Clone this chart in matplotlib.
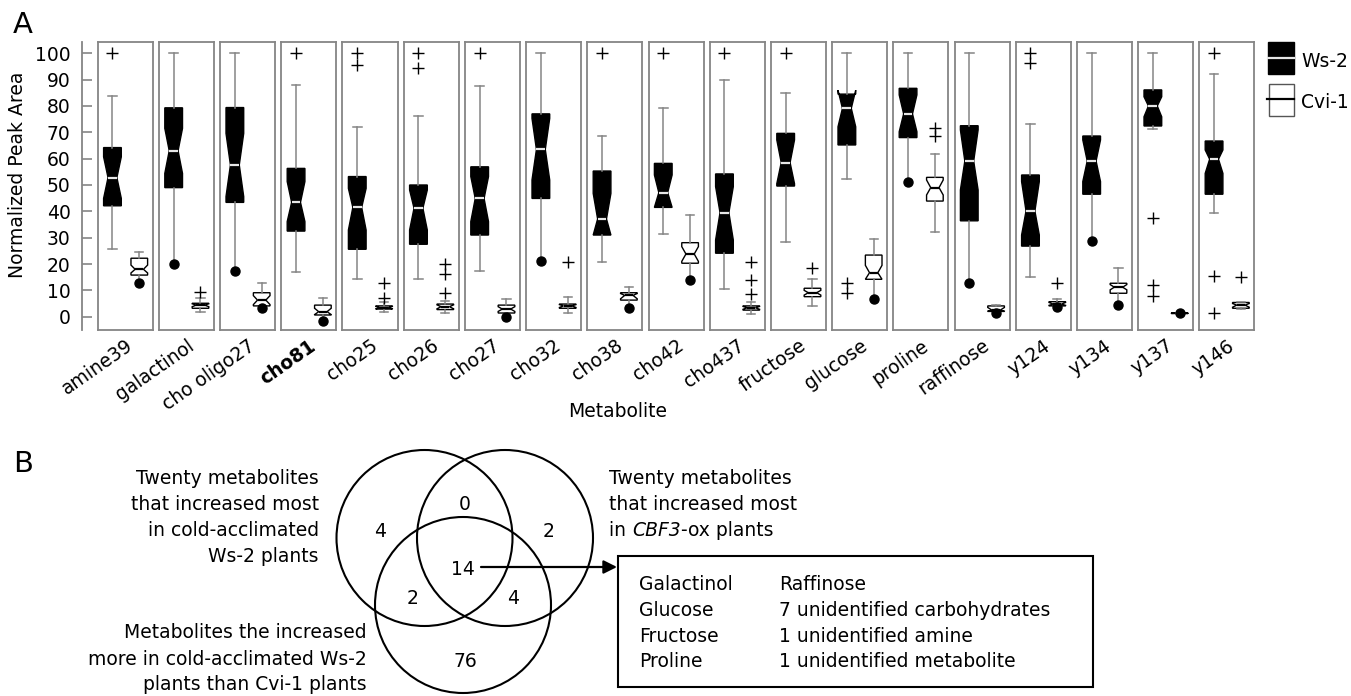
import matplotlib
matplotlib.use('Agg')
import matplotlib.pyplot as plt
from matplotlib.patches import Circle, Rectangle
import numpy as np

W, H = 1351, 696

metabolites = ['amine39', 'galactinol', 'cho oligo27', 'cho81', 'cho25', 'cho26', 'cho27',
               'cho32', 'cho38', 'cho42', 'cho437', 'fructose', 'glucose', 'proline',
               'raffinose', 'y124', 'y134', 'y137', 'y146']
bold_label = 'cho81'

# Ws-2 (filled boxes)
ws_q1 = [42.1, 49.0, 43.4, 32.5, 25.6, 27.5, 31.0, 44.9, 31.0, 41.5, 24.1, 49.6, 65.2, 68.0, 36.4, 26.8, 46.5, 72.4, 46.5]
ws_med = [52.8, 63.0, 57.6, 43.4, 41.5, 41.2, 44.9, 63.5, 37.1, 47.1, 39.5, 58.5, 79.1, 77.0, 59.1, 40.1, 59.1, 80.0, 59.8]
ws_q3 = [64.2, 79.3, 79.4, 56.3, 53.2, 50.0, 56.9, 77.0, 55.3, 58.2, 54.2, 69.6, 84.5, 86.7, 72.5, 53.8, 68.6, 86.1, 66.7]
ws_lo = [25.7, 19.9, 17.5, 17.1, 14.2, 14.2, 17.5, 21.3, 20.9, 31.4, 10.4, 28.2, 52.2, 51.3, 12.9, 15.0, 28.9, 71.1, 39.3]
ws_hi = [83.8, 100, 100, 88.0, 72.0, 76.3, 87.7, 100, 68.6, 79.1, 89.9, 84.8, 100, 100, 100, 73.2, 100, 100, 92.1]
ws_cilo = [44.9, 54.4, 45.6, 36.1, 32.9, 32.9, 36.1, 51.9, 31.0, 41.5, 29.1, 50.5, 72.1, 70.2, 48.1, 31.0, 51.3, 75.9, 54.4]
ws_cihi = [60.7, 71.5, 69.6, 51.3, 48.7, 48.1, 53.2, 75.3, 46.8, 53.8, 49.4, 67.1, 86.0, 84.2, 70.9, 51.3, 67.1, 83.5, 63.3]
ws_fliers = [[100], [], [], [100], [100, 95.6], [100, 94.3], [100], [], [100], [100], [100], [100],
             [12.7, 9.1], [], [], [100, 96.2], [], [37.3, 12.0, 7.9], [100, 15.5, 1.3]]
ws_dot = [None, 19.9, 17.5, None, None, None, None, 21.3, None, None, None, None,
          None, 51.3, 12.9, None, 28.9, None, None]

# Cvi-1 (open boxes)
cvi_q1 = [15.8, 3.2, 4.1, 0.65, 2.9, 2.7, 1.4, 3.2, 6.3, 20.3, 2.5, 7.6, 14.2, 43.9, 2.0, 4.1, 8.9, 1.2, 3.2]
cvi_med = [18.0, 4.4, 6.3, 1.9, 3.4, 3.8, 2.9, 4.1, 8.1, 23.8, 3.4, 9.1, 16.7, 49.0, 2.5, 4.8, 11.2, 1.3, 4.4]
cvi_q3 = [22.2, 5.1, 9.1, 4.4, 4.1, 4.8, 4.4, 4.8, 9.1, 28.1, 4.1, 10.8, 23.4, 52.9, 4.1, 5.7, 12.7, 1.4, 5.4]
cvi_lo = [12.9, 1.9, 3.2, -1.5, 1.9, 1.5, -0.2, 1.4, 3.2, 13.9, 1.2, 4.1, 6.7, 32.3, 1.3, 3.6, 4.4, 1.3, 3.0]
cvi_hi = [24.4, 7.0, 12.9, 7.0, 5.5, 6.0, 6.7, 7.4, 11.4, 38.6, 5.5, 14.2, 29.4, 61.8, 4.4, 6.7, 18.6, 1.5, 5.6]
cvi_cilo = [16.6, 3.8, 4.6, 0.8, 3.0, 3.0, 2.0, 3.5, 6.8, 21.0, 2.8, 8.2, 14.2, 46.2, 2.1, 4.3, 10.2, 1.25, 3.6]
cvi_cihi = [19.6, 4.9, 8.0, 3.2, 3.9, 4.5, 3.8, 4.6, 8.8, 26.6, 3.9, 10.0, 19.5, 51.9, 3.5, 5.4, 12.2, 1.35, 5.0]
cvi_fliers = [[], [9.2], [], [], [12.7, 7.2], [19.9, 16.1, 8.9], [], [20.6], [], [], [20.9, 13.9, 8.5],
              [18.6], [], [71.8, 68.6], [], [12.9], [], [], [15.2]]
cvi_dot = [12.9, None, 3.2, -1.5, None, None, -0.2, None, 3.2, 13.9, None, None,
           6.7, None, 1.3, 3.6, 4.4, 1.3, None]

yticks = list(range(0, 101, 10))

# Venn diagram counts
venn_counts = ['4', '0', '2', '14', '2', '4', '76']
venn_pos = [(380, 530), (465, 503.3), (548.3, 530), (463.3, 568.3), (412.7, 596.7), (513.3, 596.7), (465, 660)]

plt.rcParams['font.family'] = ['DejaVu Sans']
fig = plt.figure(figsize=(W / 100, H / 100), dpi=100)

fs = 13.5
grey = '#858585'
ylim = (-5.05, 104.4)
top_px, bot_px = 41.7, 330.0
ax_b = 1 - bot_px / H
ax_h = (bot_px - top_px) / H


def stat(q1, med, q3, lo, hi, cilo, cihi, fl):
    return dict(q1=q1, med=med, q3=q3, whislo=lo, whishi=hi, cilo=cilo, cihi=cihi, fliers=fl)


for i, name in enumerate(metabolites):
    left = 97.7 + 61.2 * i
    ax = fig.add_axes([left / W, ax_b, 55 / W, ax_h])
    for s in ax.spines.values():
        s.set_color(grey)
        s.set_linewidth(1.3)

    fl_style = dict(marker='+', markeredgecolor='black', markersize=8, markeredgewidth=1, linestyle='none')
    wk = dict(color=grey, linewidth=1.1)

    r1 = ax.bxp([stat(ws_q1[i], ws_med[i], ws_q3[i], ws_lo[i], ws_hi[i], ws_cilo[i], ws_cihi[i], ws_fliers[i])],
                positions=[1], widths=0.66, shownotches=True, patch_artist=True, manage_ticks=False,
                boxprops=dict(facecolor='black', edgecolor='black', linewidth=1),
                medianprops=dict(color='#e6e6e6', linewidth=1.6),
                whiskerprops=wk, capprops=wk, flierprops=fl_style)
    if ws_dot[i] is not None:
        r1['caps'][0].set_visible(False)
        ax.plot([1], [ws_dot[i]], 'o', color='black', markersize=6.5)

    r2 = ax.bxp([stat(cvi_q1[i], cvi_med[i], cvi_q3[i], cvi_lo[i], cvi_hi[i], cvi_cilo[i], cvi_cihi[i], cvi_fliers[i])],
                positions=[2], widths=0.62, shownotches=True, patch_artist=True, manage_ticks=False,
                boxprops=dict(facecolor='white', edgecolor='black', linewidth=1),
                medianprops=dict(color='black', linewidth=1.6),
                whiskerprops=wk, capprops=wk, flierprops=fl_style)
    if cvi_dot[i] is not None:
        r2['caps'][0].set_visible(False)
        ax.plot([2], [cvi_dot[i]], 'o', color='black', markersize=6.5)
    ax.set_xlim(0.45, 2.5)
    ax.set_ylim(*ylim)
    ax.set_xticks([])
    ax.set_yticks([])

    ax.text(0.5, -0.021, name, transform=ax.transAxes, rotation=35, ha='right', va='top',
            rotation_mode='anchor', fontsize=fs,
            fontweight='bold' if name == bold_label else 'normal')

# shared y axis on the left
ay = fig.add_axes([81.7 / W, ax_b, 0.5 / W, ax_h])
ay.patch.set_visible(False)
ay.set_ylim(*ylim)
ay.set_xticks([])
ay.set_yticks(yticks)
for k in ['top', 'right', 'bottom']:
    ay.spines[k].set_visible(False)
ay.spines['left'].set_color(grey)
ay.spines['left'].set_linewidth(1.3)
ay.tick_params(axis='y', direction='in', length=7.5, width=1.2, color=grey, labelsize=fs, pad=8)

# overlay in pixel coordinates for annotations
ov = fig.add_axes([0, 0, 1, 1])
ov.set_xlim(0, W)
ov.set_ylim(H, 0)
ov.axis('off')

ov.text(18, 174.5, 'Normalized Peak Area', rotation=90, ha='center', va='center', fontsize=fs)
ov.text(618, 417, 'Metabolite', ha='center', va='baseline', fontsize=fs)
ov.text(13, 33, 'A', fontsize=21, va='baseline')
ov.text(13, 472, 'B', fontsize=21, va='baseline')

# legend
ov.add_patch(Rectangle((1267.7, 42.3), 26.6, 31.7, facecolor='black', edgecolor='black', lw=1))
ov.plot([1267.7, 1294.3], [58.3, 58.3], color='#e6e6e6', lw=1.6)
ov.add_patch(Rectangle((1269.3, 84), 25, 32, facecolor='white', edgecolor='#555555', lw=1))
ov.plot([1266.5, 1294.3], [99.3, 99.3], color='black', lw=1.6)
ov.text(1301, 67, 'Ws-2', fontsize=fs, va='baseline')
ov.text(1301, 107.5, 'Cvi-1', fontsize=fs, va='baseline')

# Venn diagram
for c in [(424.5, 538), (505, 538), (463, 605)]:
    ov.add_patch(Circle(c, 88, fill=False, edgecolor='black', lw=1.5))
for t, (x, y) in zip(venn_counts, venn_pos):
    ov.text(x, y + 6.8, t, ha='center', va='baseline', fontsize=fs)

left_lines = ['Twenty metabolites', 'that increased most', 'in cold-acclimated', 'Ws-2 plants']
for t, y in zip(left_lines, [483.5, 509.5, 535.8, 561.8]):
    ov.text(319, y, t, ha='right', va='baseline', fontsize=fs)
low_lines = ['Metabolites the increased', 'more in cold-acclimated Ws-2', 'plants than Cvi-1 plants']
for t, y in zip(low_lines, [638.5, 665, 690]):
    ov.text(367, y, t, ha='right', va='baseline', fontsize=fs)
right_lines = ['Twenty metabolites', 'that increased most']
for t, y in zip(right_lines, [483.5, 509.5]):
    ov.text(609.4, y, t, ha='left', va='baseline', fontsize=fs)
# third line with italic gene name
t1 = ov.text(609.4, 535.8, 'in ', ha='left', va='baseline', fontsize=fs)
t2 = ov.annotate('CBF3', xycoords=t1, xy=(1, 0), va='bottom', ha='left', fontsize=fs, fontstyle='italic')
ov.annotate('-ox plants', xycoords=t2, xy=(1, 0), va='bottom', ha='left', fontsize=fs)

ov.annotate('', xy=(617, 567), xytext=(481, 567),
            arrowprops=dict(arrowstyle='-|>', color='black', lw=1.6, mutation_scale=20, shrinkA=0, shrinkB=0))
ov.add_patch(Rectangle((618, 556), 475, 131, fill=False, edgecolor='black', lw=1.5))
col1 = ['Galactinol', 'Glucose', 'Fructose', 'Proline']
col2 = ['Raffinose', '7 unidentified carbohydrates', '1 unidentified amine', '1 unidentified metabolite']
for a, b, y in zip(col1, col2, [590, 616, 642, 667]):
    ov.text(639, y, a, va='baseline', fontsize=fs)
    ov.text(779, y, b, va='baseline', fontsize=fs)

fig.savefig('out.png', dpi=100)
